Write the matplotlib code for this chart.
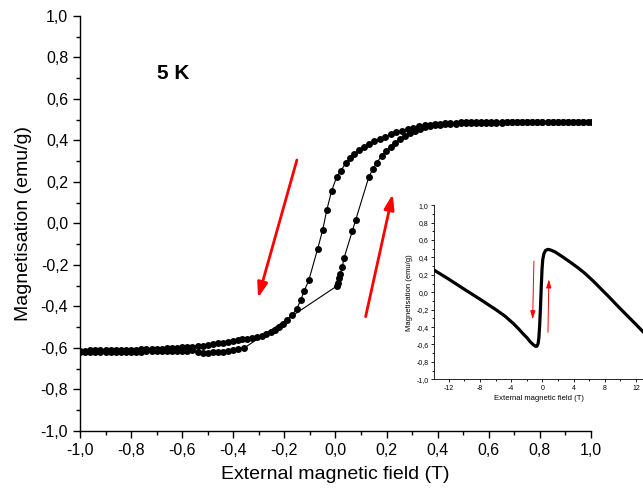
import matplotlib
matplotlib.use("Agg")
import matplotlib.pyplot as plt
from matplotlib.ticker import MultipleLocator, FuncFormatter

plt.rcParams['font.family'] = ['Liberation Sans', 'DejaVu Sans']

# descending field branch (listed with increasing field)
down_x = [-1.00, -0.98, -0.96, -0.94, -0.92, -0.90, -0.88, -0.86, -0.84, -0.82,
          -0.80, -0.78, -0.76, -0.74, -0.72, -0.70, -0.68, -0.66, -0.64, -0.62,
          -0.60, -0.58, -0.56, -0.54, -0.52, -0.50, -0.48, -0.46, -0.44, -0.42,
          -0.40, -0.38, -0.365, -0.348, -0.328, -0.308, -0.289, -0.272, -0.254,
          -0.237, -0.220, -0.204, -0.189, -0.170, -0.152, -0.136, -0.122, -0.104,
          -0.070, -0.050, -0.034, -0.015, 0.005, 0.020, 0.040, 0.057, 0.074,
          0.092, 0.111, 0.131, 0.152, 0.174, 0.194, 0.216, 0.237, 0.259, 0.282,
          0.305, 0.327, 0.350, 0.37, 0.39, 0.41, 0.43, 0.45, 0.47, 0.49, 0.51,
          0.53, 0.55, 0.57, 0.59, 0.61, 0.63, 0.65, 0.67, 0.69, 0.71, 0.73, 0.75,
          0.77, 0.79, 0.81, 0.83, 0.85, 0.87, 0.89, 0.91, 0.93, 0.95, 0.97, 0.99]
down_m = [-0.613, -0.613, -0.612, -0.612, -0.611, -0.611, -0.611, -0.610, -0.610, -0.609,
          -0.609, -0.608, -0.607, -0.606, -0.605, -0.604, -0.603, -0.602, -0.600, -0.599,
          -0.597, -0.595, -0.593, -0.590, -0.588, -0.585, -0.581, -0.578, -0.574, -0.569,
          -0.565, -0.561, -0.559, -0.557, -0.553, -0.548, -0.542, -0.534, -0.524,
          -0.513, -0.500, -0.484, -0.465, -0.441, -0.412, -0.369, -0.324, -0.272,
          -0.123, -0.031, 0.065, 0.158, 0.225, 0.253, 0.290, 0.314, 0.335,
          0.354, 0.370, 0.383, 0.396, 0.407, 0.418, 0.430, 0.440, 0.447, 0.455,
          0.461, 0.468, 0.473, 0.476, 0.479, 0.481, 0.483, 0.485, 0.486, 0.487, 0.488,
          0.489, 0.490, 0.491, 0.489, 0.489, 0.489, 0.490, 0.490, 0.490, 0.490, 0.490, 0.491,
          0.491, 0.491, 0.491, 0.491, 0.491, 0.491, 0.491, 0.491, 0.491, 0.491, 0.491, 0.491]

# ascending field branch
up_x = [-1.00, -0.98, -0.96, -0.94, -0.92, -0.90, -0.88, -0.86, -0.84, -0.82,
        -0.80, -0.78, -0.76, -0.74, -0.72, -0.70, -0.68, -0.66, -0.64, -0.62,
        -0.60, -0.58, -0.56, -0.54, -0.52, -0.50, -0.48, -0.46, -0.44, -0.42,
        -0.40, -0.38, -0.36, 0.007, 0.011, 0.014, 0.018, 0.027, 0.033, 0.066,
        0.079, 0.131, 0.146, 0.161, 0.181, 0.198, 0.216, 0.233, 0.252, 0.272,
        0.292, 0.311, 0.331, 0.350, 0.37, 0.39, 0.41, 0.43, 0.45, 0.47, 0.49,
        0.51, 0.53, 0.55, 0.57, 0.59, 0.61, 0.63, 0.65, 0.67, 0.69, 0.71, 0.73,
        0.75, 0.77, 0.79, 0.81, 0.83, 0.85, 0.87, 0.89, 0.91, 0.93, 0.95, 0.97, 1.00]
up_m = [-0.618, -0.618, -0.618, -0.618, -0.618, -0.618, -0.618, -0.618, -0.617, -0.617,
        -0.617, -0.617, -0.617, -0.616, -0.616, -0.616, -0.615, -0.615, -0.615, -0.614,
        -0.614, -0.613, -0.612, -0.621, -0.623, -0.623, -0.621, -0.619, -0.617, -0.614,
        -0.610, -0.606, -0.602, -0.300, -0.288, -0.264, -0.243, -0.208, -0.168, -0.036,
        0.017, 0.226, 0.261, 0.293, 0.325, 0.351, 0.370, 0.389, 0.406, 0.422,
        0.435, 0.447, 0.457, 0.467, 0.471, 0.474, 0.476, 0.478, 0.480, 0.481, 0.482,
        0.483, 0.484, 0.484, 0.485, 0.485, 0.486, 0.486, 0.486, 0.487, 0.487, 0.487, 0.487,
        0.488, 0.488, 0.488, 0.488, 0.488, 0.488, 0.488, 0.488, 0.488, 0.488, 0.488, 0.488, 0.488]

# inset: wide field sweep
wide_x = [-13.9, -12.0, -10.2, -8.0, -5.9, -4.8, -3.75, -3.0, -2.5, -2.0, -1.6, -1.2,
          -0.9, -0.7, -0.55, -0.45, -0.35, -0.25, -0.15, -0.05, 0.05, 0.2, 0.4, 0.7,
          1.0, 1.6, 2.5, 3.5, 4.5, 5.45, 6.5, 7.5, 8.5, 9.74, 11.0, 12.0, 12.9]
wide_m = [0.255, 0.150, 0.045, -0.080, -0.204, -0.274, -0.357, -0.425, -0.475, -0.520,
          -0.565, -0.600, -0.620, -0.620, -0.590, -0.520, -0.380, -0.180, 0.050, 0.260,
          0.380, 0.445, 0.480, 0.492, 0.487, 0.464, 0.412, 0.350, 0.285, 0.217, 0.130,
          0.040, -0.050, -0.166, -0.280, -0.370, -0.453]


def comma(v, pos):
    return f"{v:.1f}".replace('.', ',')


fig = plt.figure(figsize=(6.43, 4.92), dpi=100)
ax = fig.add_axes([0.1244, 0.124, 0.7947, 0.8435])

ax.plot(down_x, down_m, '-o', color='black', lw=0.8, ms=5.0, mew=0)
ax.plot(up_x, up_m, '-o', color='black', lw=0.8, ms=5.0, mew=0)

ax.set_xlim(-1, 1)
ax.set_ylim(-1, 1)
ax.xaxis.set_major_locator(MultipleLocator(0.2))
ax.xaxis.set_minor_locator(MultipleLocator(0.1))
ax.yaxis.set_major_locator(MultipleLocator(0.2))
ax.yaxis.set_minor_locator(MultipleLocator(0.1))
ax.xaxis.set_major_formatter(FuncFormatter(comma))
ax.yaxis.set_major_formatter(FuncFormatter(comma))
ax.tick_params(which='major', direction='out', length=5, width=1, labelsize=11.5)
ax.tick_params(which='minor', direction='out', length=3, width=1)
for s in ['top', 'right']:
    ax.spines[s].set_visible(False)
for s in ['left', 'bottom']:
    ax.spines[s].set_linewidth(1)
ax.set_xlabel('External magnetic field (T)', fontsize=14, labelpad=6)
ax.set_ylabel('Magnetisation (emu/g)', fontsize=14, labelpad=6)

ax.text(-0.70, 0.725, '5 K', fontsize=15, fontweight='bold', va='center', ha='left')

arrow_kw = dict(arrowstyle='-|>,head_length=0.9,head_width=0.3', color='red', lw=2, shrinkA=0, shrinkB=0)
ax.annotate('', xy=(-0.303, -0.359), xytext=(-0.151, 0.306), arrowprops=arrow_kw)
ax.annotate('', xy=(0.224, 0.142), xytext=(0.118, -0.449), arrowprops=arrow_kw)

# inset
ins = fig.add_axes([434 / 643, 0.229, 1 - 434 / 643, 0.354])
ins.patch.set_alpha(0)
ins.plot(wide_x, wide_m, '-', color='black', lw=2.3, solid_joinstyle='round')
ins.set_xlim(-13.9, 12.9)
ins.set_ylim(-1, 1)
ins.xaxis.set_major_locator(MultipleLocator(4))
ins.xaxis.set_minor_locator(MultipleLocator(2))
ins.yaxis.set_major_locator(MultipleLocator(0.2))
ins.yaxis.set_minor_locator(MultipleLocator(0.1))
ins.xaxis.set_major_formatter(FuncFormatter(lambda v, p: f"{v:.0f}"))
ins.yaxis.set_major_formatter(FuncFormatter(comma))
ins.tick_params(which='major', direction='out', length=2.5, width=0.6, labelsize=5, pad=1.5)
ins.tick_params(which='minor', direction='out', length=1.5, width=0.6)
for s in ['top', 'right']:
    ins.spines[s].set_visible(False)
for s in ['left', 'bottom']:
    ins.spines[s].set_linewidth(0.6)
ins.set_xlabel('External magnetic field (T)', fontsize=5.5, labelpad=2)
ins.set_ylabel('Magnetisation (emu/g)', fontsize=5.5, labelpad=2)

small_kw = dict(arrowstyle='-|>,head_length=0.5,head_width=0.15', color='red', lw=0.7, shrinkA=0, shrinkB=0)
ins.annotate('', xy=(-1.25, -0.311), xytext=(-1.09, 0.358), arrowprops=small_kw)
ins.annotate('', xy=(0.83, 0.148), xytext=(0.71, -0.46), arrowprops=small_kw)

fig.savefig('out.png', dpi=100)
